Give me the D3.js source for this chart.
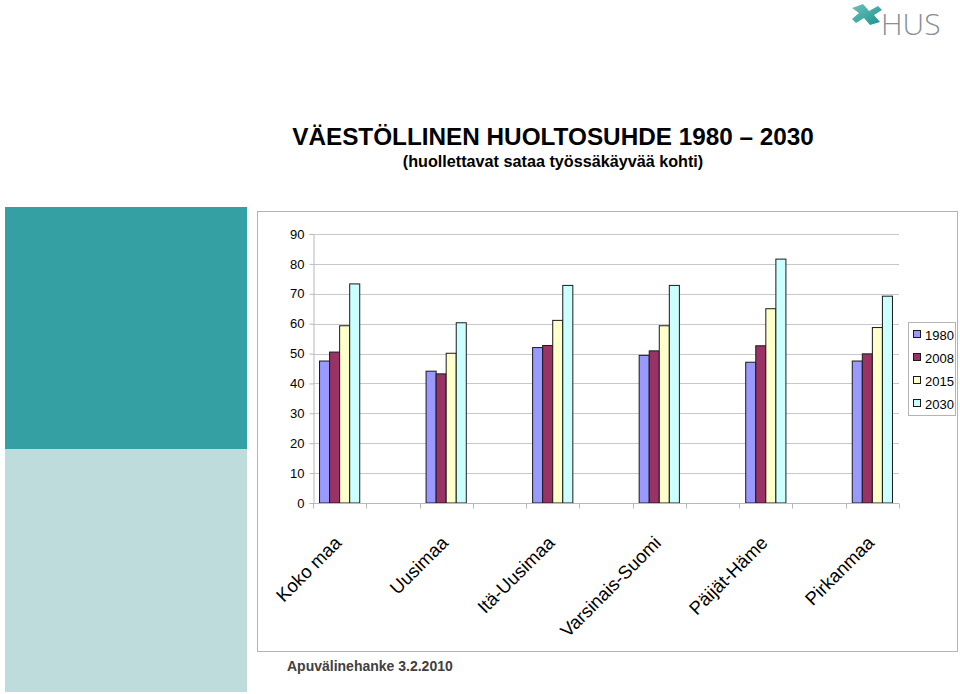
<!DOCTYPE html>
<html>
<head>
<meta charset="utf-8">
<script src="https://cdn.jsdelivr.net/npm/d3@7"></script>
<style>
  html, body { margin: 0; padding: 0; background: #fff; }
  svg { display: block; }
  text { font-family: "Liberation Sans", Arial, sans-serif; }
</style>
</head>
<body>
<svg id="chart" width="960" height="694"></svg>
<script>
// ---- Data ----
const categories = ["Koko maa", "", "Uusimaa", "", "Itä-Uusimaa", "", "Varsinais-Suomi", "", "Päijät-Häme", "", "Pirkanmaa"];
const seriesNames = ["1980", "2008", "2015", "2030"];
const values1980 = [47.5, null, 44.1, null, 52.0, null, 49.4, null, 47.1, null, 47.5];
const values2008 = [50.5, null, 43.2, null, 52.7, null, 50.9, null, 52.6, null, 49.9];
const values2015 = [59.3, null, 50.1, null, 61.1, null, 59.3, null, 65.0, null, 58.7];
const values2030 = [73.3, null, 60.3, null, 72.8, null, 72.8, null, 81.6, null, 69.2];
const yTicks = [0, 10, 20, 30, 40, 50, 60, 70, 80, 90];
const seriesColors = ["#9999FF", "#993366", "#FFFFCC", "#CCFFFF"];

const seriesValues = [values1980, values2008, values2015, values2030];

const svg = d3.select("#chart");

// Decorative blocks on left
svg.append("rect").attr("x", 5).attr("y", 207).attr("width", 242).attr("height", 242).attr("fill", "#35a0a3");
svg.append("rect").attr("x", 5).attr("y", 449).attr("width", 242).attr("height", 243).attr("fill", "#bedcdc");

// Logo
const defs = svg.append("defs");
const grad = defs.append("linearGradient").attr("id", "lg").attr("x1", "0").attr("y1", "0").attr("x2", "1").attr("y2", "1");
grad.append("stop").attr("offset", "0").attr("stop-color", "#6cc4bd");
grad.append("stop").attr("offset", "1").attr("stop-color", "#1f8f8c");
const logo = svg.append("g");
logo.append("path")
  .attr("d", "M852,8 L863,4 L869,11 L878,6 L882,10 L874,15 L880,22 L870,25 L864,18 L856,23 L852,19 L859,13 Z")
  .attr("fill", "url(#lg)");
logo.append("text").attr("x", 881).attr("y", 35).attr("font-size", 30)
  .attr("fill", "#8a9096").style("font-family", "'Open Sans', sans-serif").attr("font-weight", 300)
  .text("HUS");

// Titles
svg.append("text").attr("x", 553).attr("y", 145).attr("text-anchor", "middle")
  .attr("font-size", 24.3).attr("font-weight", "bold").attr("fill", "#000")
  .text("VÄESTÖLLINEN HUOLTOSUHDE 1980 – 2030");
svg.append("text").attr("x", 553).attr("y", 167).attr("text-anchor", "middle")
  .attr("font-size", 16.2).attr("font-weight", "bold").attr("fill", "#000")
  .text("(huollettavat sataa työssäkäyvää kohti)");

// Footer
svg.append("text").attr("x", 287).attr("y", 671)
  .attr("font-size", 14).attr("font-weight", "bold").attr("fill", "#404040")
  .text("Apuvälinehanke 3.2.2010");

// Chart border
svg.append("rect").attr("x", 257.5).attr("y", 211.5).attr("width", 700).attr("height", 440)
  .attr("fill", "#fff").attr("stroke", "#b4b4b4").attr("stroke-width", 1);

// Plot
const plot = { left: 313, right: 899, top: 234, bottom: 503 };
const x0 = d3.scaleBand().domain(d3.range(categories.length)).range([plot.left, plot.right]).padding(0);
const x1 = d3.scaleBand().domain(seriesNames).range([0, x0.bandwidth()]).paddingInner(0).paddingOuter(0.65);
const y = d3.scaleLinear().domain([0, 90]).range([plot.bottom, plot.top]);

const g = svg.append("g");

// Gridlines
g.selectAll("line.grid").data(yTicks.filter(d => d > 0)).enter().append("line")
  .attr("x1", plot.left).attr("x2", plot.right)
  .attr("y1", d => Math.round(y(d)) + 0.5).attr("y2", d => Math.round(y(d)) + 0.5)
  .attr("stroke", "#c8c8c8").attr("stroke-width", 1);

// Y axis
const yAxis = g.append("g").attr("transform", `translate(${plot.left + 0.5},0)`)
  .call(d3.axisLeft(y).tickValues(yTicks).tickSize(4).tickPadding(5).tickFormat(d3.format("d")));
yAxis.select(".domain").attr("stroke", "#b8b8b8");
yAxis.selectAll(".tick line").attr("stroke", "#b8b8b8");
yAxis.selectAll(".tick text").attr("font-size", 13).attr("fill", "#000")
  .style("font-family", "'Liberation Sans', Arial, sans-serif");

// Bars
categories.forEach((cat, i) => {
  seriesNames.forEach((s, j) => {
    const v = seriesValues[j][i];
    if (v == null) return;
    g.append("rect")
      .attr("x", x0(i) + x1(s))
      .attr("y", y(v))
      .attr("width", x1.bandwidth())
      .attr("height", y(0) - y(v))
      .attr("fill", seriesColors[j])
      .attr("stroke", "#1a1a1a").attr("stroke-width", 1);
  });
});

// X axis
const xAxisG = g.append("g").attr("transform", `translate(0,${plot.bottom + 0.5})`);
xAxisG.append("line").attr("x1", plot.left).attr("x2", plot.right).attr("y1", 0).attr("y2", 0).attr("stroke", "#b8b8b8");
const boundaries = d3.range(categories.length + 1).map(i => plot.left + i * x0.step());
xAxisG.selectAll("line.tk").data(boundaries).enter().append("line")
  .attr("x1", d => Math.round(d) + 0.5).attr("x2", d => Math.round(d) + 0.5)
  .attr("y1", 0).attr("y2", 5).attr("stroke", "#b8b8b8");

// X labels rotated
categories.forEach((cat, i) => {
  if (!cat) return;
  const cx = x0(i) + x0.bandwidth() / 2;
  g.append("text")
    .attr("transform", `translate(${cx + 3},${544}) rotate(-45)`)
    .attr("text-anchor", "end")
    .attr("font-size", 18.5).attr("fill", "#000")
    .text(cat);
});

// Legend
const legend = svg.append("g");
legend.append("rect").attr("x", 908.5).attr("y", 322.5).attr("width", 47).attr("height", 93)
  .attr("fill", "#fff").attr("stroke", "#b4b4b4");
seriesNames.forEach((s, j) => {
  const cy = 335 + j * 23;
  legend.append("rect").attr("x", 913.5).attr("y", cy - 4.5).attr("width", 7).attr("height", 7)
    .attr("fill", seriesColors[j]).attr("stroke", "#1a1a1a");
  legend.append("text").attr("x", 925).attr("y", cy + 5).attr("font-size", 13).attr("fill", "#000").text(s);
});
</script>
</body>
</html>
